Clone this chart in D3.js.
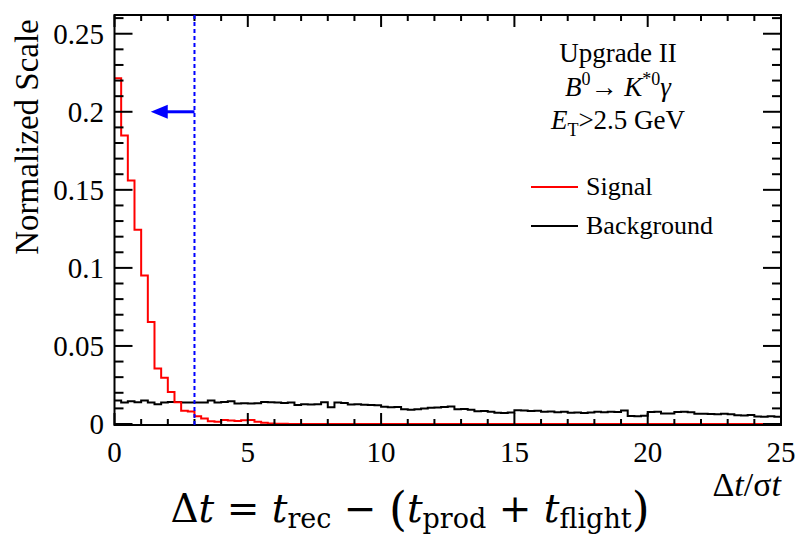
<!DOCTYPE html>
<html>
<head>
<meta charset="utf-8">
<script src="https://cdn.jsdelivr.net/npm/d3@7"></script>
<style>
  body { margin: 0; background: white; }
  svg { display: block; }
  text { font-family: "Liberation Serif", "Times New Roman", serif; fill: black; }
</style>
</head>
<body>
<div id="canvas"></div>
<script>
// histogram contents, 100 bins of width 0.25 from 0 to 25
var binLow = 0, binWidth = 0.25;

var signal = [
  0.2215, 0.1848, 0.1560, 0.1245, 0.0952, 0.0654, 0.0355, 0.0296, 0.0205, 0.0140,
  0.0085, 0.0080, 0.0050, 0.0035, 0.0018, 0.0015, 0.0025, 0.0022, 0.0020, 0.0024,
  0.0026, 0.0015, 0.0008, 0.0004, 0.0002, 0.0001, 0, 0, 0, 0,
  0, 0, 0, 0, 0, 0, 0, 0, 0, 0,
  0, 0, 0, 0, 0, 0, 0, 0, 0, 0,
  0, 0, 0, 0, 0, 0, 0, 0, 0, 0,
  0, 0, 0, 0, 0, 0, 0, 0, 0, 0,
  0, 0, 0, 0, 0, 0, 0, 0, 0, 0,
  0, 0, 0, 0, 0, 0, 0, 0, 0, 0,
  0, 0, 0, 0, 0, 0, 0, 0, 0, 0
];

var background = [
  0.0150, 0.0138, 0.0146, 0.0139, 0.0150, 0.0138, 0.0126, 0.0138, 0.0141, 0.0141,
  0.0138, 0.0138, 0.0138, 0.0138, 0.0150, 0.0138, 0.0141, 0.0145, 0.0132, 0.0133,
  0.0131, 0.0133, 0.0141, 0.0140, 0.0137, 0.0135, 0.0138, 0.0122, 0.0126, 0.0125,
  0.0127, 0.0139, 0.0108, 0.0138, 0.0134, 0.0125, 0.0127, 0.0124, 0.0122, 0.0120,
  0.0110, 0.0107, 0.0109, 0.0094, 0.0092, 0.0095, 0.0099, 0.0104, 0.0106, 0.0109,
  0.0112, 0.0095, 0.0096, 0.0092, 0.0081, 0.0083, 0.0079, 0.0072, 0.0070, 0.0073,
  0.0088, 0.0086, 0.0084, 0.0085, 0.0078, 0.0080, 0.0076, 0.0079, 0.0072, 0.0074,
  0.0071, 0.0073, 0.0078, 0.0076, 0.0079, 0.0077, 0.0087, 0.0052, 0.0050, 0.0053,
  0.0077, 0.0078, 0.0067, 0.0068, 0.0077, 0.0078, 0.0075, 0.0065, 0.0066, 0.0064,
  0.0063, 0.0065, 0.0062, 0.0056, 0.0055, 0.0057, 0.0048, 0.0047, 0.0049, 0.0046
];

var xTicks = [0, 5, 10, 15, 20, 25];
var yTicks = [0, 0.05, 0.1, 0.15, 0.2, 0.25];
var yTickLabels = ["0", "0.05", "0.1", "0.15", "0.2", "0.25"];
var cutValue = 3;      // dashed cut line
var arrowTip = 1.36;   // arrow points left to here
var arrowY = 0.2;

var svg = d3.select("#canvas").append("svg")
    .attr("width", 796)
    .attr("height", 540);

var x = d3.scaleLinear().domain([0, 25]).range([114.5, 781]);
var y = d3.scaleLinear().domain([0, 0.262]).range([424, 15]);

// histogram outline as steps
function steps(vals) {
    var pts = [];
    vals.forEach(function(v, i) {
        pts.push([binLow + i * binWidth, v]);
        pts.push([binLow + (i + 1) * binWidth, v]);
    });
    return pts;
}
var line = d3.line().x(d => x(d[0])).y(d => y(d[1]));

svg.append("path")
    .attr("d", line(steps(background)))
    .attr("fill", "none")
    .attr("stroke", "black")
    .attr("stroke-width", 2);

svg.append("path")
    .attr("d", line(steps(signal)))
    .attr("fill", "none")
    .attr("stroke", "#ff0000")
    .attr("stroke-width", 2);

// frame
svg.append("rect")
    .attr("x", x(0)).attr("y", y.range()[1])
    .attr("width", x(25) - x(0))
    .attr("height", 425 - y.range()[1])
    .attr("fill", "none")
    .attr("stroke", "black")
    .attr("stroke-width", 2);

// ticks on all four sides, ROOT style (inside)
var xMinor = d3.range(0, 26, 1);
var yMinor = d3.range(0, 0.2605, 0.01);
var tk = svg.append("g").attr("stroke", "black").attr("stroke-width", 2);
xMinor.forEach(function(v) {
    var len = (v % 5 === 0) ? 12 : 6;
    tk.append("line").attr("x1", x(v)).attr("x2", x(v)).attr("y1", 425).attr("y2", 425 - len);
    tk.append("line").attr("x1", x(v)).attr("x2", x(v)).attr("y1", y.range()[1]).attr("y2", y.range()[1] + len);
});
yMinor.forEach(function(v, i) {
    var len = (i % 5 === 0) ? 18 : 9;
    tk.append("line").attr("x1", x(0)).attr("x2", x(0) + len).attr("y1", y(v)).attr("y2", y(v));
    tk.append("line").attr("x1", x(25)).attr("x2", x(25) - len).attr("y1", y(v)).attr("y2", y(v));
});

// tick labels
svg.selectAll(".xlab").data(xTicks).enter().append("text")
    .attr("class", "xlab")
    .attr("x", d => x(d))
    .attr("y", 462)
    .attr("text-anchor", "middle")
    .style("font-size", "29px")
    .text(d => d);

svg.selectAll(".ylab").data(yTicks).enter().append("text")
    .attr("class", "ylab")
    .attr("x", 104)
    .attr("y", d => y(d) + 10)
    .attr("text-anchor", "end")
    .style("font-size", "29px")
    .text((d, i) => yTickLabels[i]);

// axis titles
svg.append("text")
    .attr("transform", "translate(38,137) rotate(-90)")
    .attr("text-anchor", "middle")
    .style("font-size", "33px")
    .text("Normalized Scale");

var xt = svg.append("text")
    .attr("x", 781).attr("y", 496)
    .attr("text-anchor", "end")
    .style("font-size", "34px");
xt.append("tspan").text("\u0394");
xt.append("tspan").style("font-style", "italic").text("t");
xt.append("tspan").text("/\u03c3");
xt.append("tspan").style("font-style", "italic").text("t");

// cut line and arrow
svg.append("line")
    .attr("x1", x(cutValue)).attr("x2", x(cutValue))
    .attr("y1", 425).attr("y2", y.range()[1])
    .attr("stroke", "#0000ff")
    .attr("stroke-width", 2)
    .attr("stroke-dasharray", "4,3");

svg.append("line")
    .attr("x1", x(cutValue)).attr("x2", x(arrowTip) + 14)
    .attr("y1", y(arrowY)).attr("y2", y(arrowY))
    .attr("stroke", "#0000ff")
    .attr("stroke-width", 3);
svg.append("path")
    .attr("d", "M" + x(arrowTip) + "," + y(arrowY) + "l17,-7l0,14z")
    .attr("fill", "#0000ff");

// labels
var info = svg.append("g").style("font-size", "27px").attr("text-anchor", "middle");
info.append("text").attr("x", 618).attr("y", 62).text("Upgrade II");
var dec = info.append("text").attr("x", 618).attr("y", 96);
dec.append("tspan").style("font-style", "italic").text("B");
dec.append("tspan").attr("dy", -11).style("font-size", "18px").text("0");
dec.append("tspan").attr("dy", 11).text("\u2192 ");
dec.append("tspan").style("font-style", "italic").text("K");
dec.append("tspan").attr("dy", -11).style("font-size", "18px").text("*0");
dec.append("tspan").attr("dy", 11).style("font-style", "italic").text("\u03b3");
var et = info.append("text").attr("x", 618).attr("y", 129);
et.append("tspan").style("font-style", "italic").text("E");
et.append("tspan").attr("dy", 7).style("font-size", "18px").text("T");
et.append("tspan").attr("dy", -7).text(">2.5 GeV");

// legend
var legend = [["Signal", "#ff0000", 187], ["Background", "black", 226]];
legend.forEach(function(l) {
    svg.append("line")
        .attr("x1", 531).attr("x2", 578)
        .attr("y1", l[2]).attr("y2", l[2])
        .attr("stroke", l[1]).attr("stroke-width", 2);
    svg.append("text")
        .attr("x", 586).attr("y", l[2] + 8)
        .style("font-size", "26px")
        .text(l[0]);
});

// formula under the axis
var f = svg.append("text")
    .attr("x", 410).attr("y", 522)
    .attr("text-anchor", "middle")
    .style("font-family", "'DejaVu Serif', serif")
    .style("font-size", "39px");
f.append("tspan").text("\u0394");
f.append("tspan").style("font-style", "italic").text("t");
f.append("tspan").text(" = ");
f.append("tspan").style("font-style", "italic").text("t");
f.append("tspan").attr("dy", 6).style("font-size", "27px").text("rec");
f.append("tspan").attr("dy", -6).text(" \u2212 ");
f.append("tspan").attr("dy", 3).style("font-size", "46px").text("(");
f.append("tspan").attr("dy", -3).style("font-style", "italic").text("t");
f.append("tspan").attr("dy", 6).style("font-size", "27px").text("prod");
f.append("tspan").attr("dy", -6).text(" + ");
f.append("tspan").style("font-style", "italic").text("t");
f.append("tspan").attr("dy", 6).style("font-size", "27px").text("flight");
f.append("tspan").attr("dy", -3).style("font-size", "46px").text(")");
</script>
</body>
</html>
